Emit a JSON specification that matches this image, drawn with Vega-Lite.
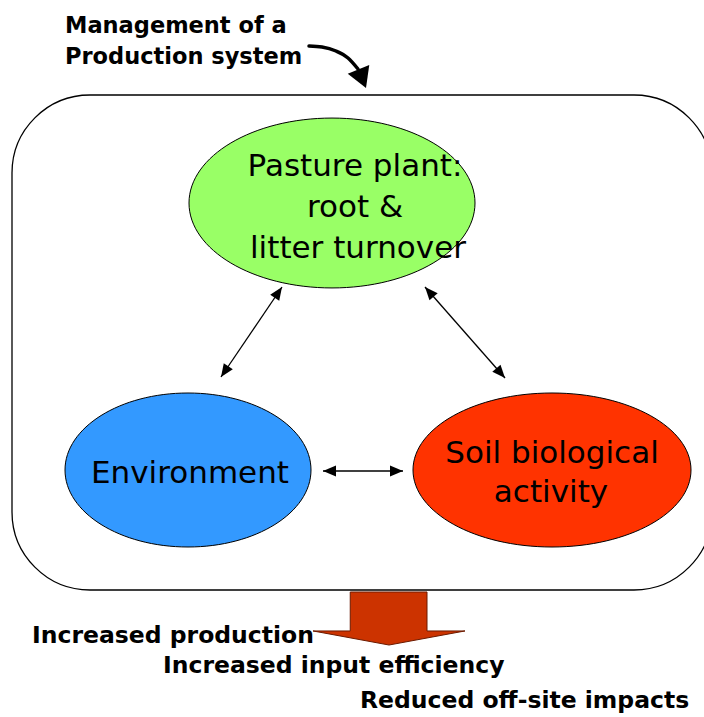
{
  "$schema": "https://vega.github.io/schema/vega-lite/v6.json",
  "width": 704,
  "height": 717,
  "autosize": {"type": "fit", "contains": "padding"},
  "padding": 0,
  "background": "white",
  "config": {"view": {"stroke": null}},
  "datasets": {
    "frame": [{"x": 12, "y": 95, "x2": 712, "y2": 590}],
    "nodes": [
      {"id": "Pasture", "x": 332, "y": 203},
      {"id": "Environment", "x": 188, "y": 470},
      {"id": "Soil", "x": 552, "y": 470}
    ],
    "links": [
      {"x1": 282, "y1": 287, "x2": 221, "y2": 377},
      {"x1": 425, "y1": 287, "x2": 505, "y2": 378},
      {"x1": 323, "y1": 471, "x2": 403, "y2": 471}
    ],
    "curve": [
      {"o": 1, "x": 309, "y": 46},
      {"o": 2, "x": 322, "y": 47},
      {"o": 3, "x": 336, "y": 51},
      {"o": 4, "x": 348, "y": 58},
      {"o": 5, "x": 358, "y": 69}
    ],
    "curvehead": [{"x": 366, "y": 88}],
    "output": [{"x": 389, "y": 618.5}],
    "toptext": [
      {"text": "Management of a", "x": 65, "y": 33},
      {"text": "Production system", "x": 65, "y": 64}
    ],
    "nodetext": [
      {"text": "Pasture plant:", "x": 355, "y": 176},
      {"text": "root &", "x": 355, "y": 217},
      {"text": "litter turnover", "x": 358, "y": 258},
      {"text": "Environment", "x": 190, "y": 483},
      {"text": "Soil biological", "x": 552, "y": 463},
      {"text": "activity", "x": 551, "y": 502}
    ],
    "bottomtext": [
      {"text": "Increased production", "x": 32, "y": 643},
      {"text": "Increased input efficiency", "x": 163, "y": 673},
      {"text": "Reduced off-site impacts", "x": 360, "y": 708}
    ]
  },
  "layer": [
    {
      "data": {"name": "frame"},
      "mark": {"type": "rect", "cornerRadius": 78, "fill": "white", "stroke": "black", "strokeWidth": 1.3, "clip": true},
      "encoding": {
        "x": {"field": "x", "type": "quantitative", "scale": {"domain": [0, 704], "nice": false, "zero": false}, "axis": null},
        "x2": {"field": "x2"},
        "y": {"field": "y", "type": "quantitative", "scale": {"domain": [0, 717], "nice": false, "zero": false, "reverse": true}, "axis": null},
        "y2": {"field": "y2"}
      }
    },
    {
      "data": {"name": "nodes"},
      "transform": [{"filter": "datum.id == 'Pasture'"}],
      "mark": {"type": "point", "filled": true, "opacity": 1, "fill": "#99FF66", "stroke": "black", "strokeWidth": 1, "size": 81796,
        "shape": "M 1 0 C 1 0.328 0.5523 0.594 0 0.594 C -0.5523 0.594 -1 0.328 -1 0 C -1 -0.328 -0.5523 -0.594 0 -0.594 C 0.5523 -0.594 1 -0.328 1 0 Z"},
      "encoding": {
        "x": {"field": "x", "type": "quantitative", "axis": null},
        "y": {"field": "y", "type": "quantitative", "axis": null}
      }
    },
    {
      "data": {"name": "nodes"},
      "transform": [{"filter": "datum.id == 'Environment'"}],
      "mark": {"type": "point", "filled": true, "opacity": 1, "fill": "#3399FF", "stroke": "black", "strokeWidth": 1, "size": 60516,
        "shape": "M 1 0 C 1 0.3457 0.5523 0.626 0 0.626 C -0.5523 0.626 -1 0.3457 -1 0 C -1 -0.3457 -0.5523 -0.626 0 -0.626 C 0.5523 -0.626 1 -0.3457 1 0 Z"},
      "encoding": {
        "x": {"field": "x", "type": "quantitative", "axis": null},
        "y": {"field": "y", "type": "quantitative", "axis": null}
      }
    },
    {
      "data": {"name": "nodes"},
      "transform": [{"filter": "datum.id == 'Soil'"}],
      "mark": {"type": "point", "filled": true, "opacity": 1, "fill": "#FF3300", "stroke": "black", "strokeWidth": 1, "size": 77284,
        "shape": "M 1 0 C 1 0.306 0.5523 0.554 0 0.554 C -0.5523 0.554 -1 0.306 -1 0 C -1 -0.306 -0.5523 -0.554 0 -0.554 C 0.5523 -0.554 1 -0.306 1 0 Z"},
      "encoding": {
        "x": {"field": "x", "type": "quantitative", "axis": null},
        "y": {"field": "y", "type": "quantitative", "axis": null}
      }
    },
    {
      "data": {"name": "links"},
      "mark": {"type": "rule", "color": "black", "strokeWidth": 1.3},
      "encoding": {
        "x": {"field": "x1", "type": "quantitative", "axis": null},
        "y": {"field": "y1", "type": "quantitative", "axis": null},
        "x2": {"field": "x2"},
        "y2": {"field": "y2"}
      }
    },
    {
      "data": {"name": "links"},
      "transform": [{"calculate": "atan2(datum.x2 - datum.x1, datum.y1 - datum.y2) * 180 / PI", "as": "a"}],
      "mark": {"type": "point", "filled": true, "opacity": 1, "fill": "black", "strokeWidth": 0, "size": 676, "shape": "M 0 0 L 0.42 1 L -0.42 1 Z"},
      "encoding": {
        "x": {"field": "x2", "type": "quantitative", "axis": null},
        "y": {"field": "y2", "type": "quantitative", "axis": null},
        "angle": {"field": "a", "type": "quantitative", "scale": null}
      }
    },
    {
      "data": {"name": "links"},
      "transform": [{"calculate": "atan2(datum.x1 - datum.x2, datum.y2 - datum.y1) * 180 / PI", "as": "a"}],
      "mark": {"type": "point", "filled": true, "opacity": 1, "fill": "black", "strokeWidth": 0, "size": 676, "shape": "M 0 0 L 0.42 1 L -0.42 1 Z"},
      "encoding": {
        "x": {"field": "x1", "type": "quantitative", "axis": null},
        "y": {"field": "y1", "type": "quantitative", "axis": null},
        "angle": {"field": "a", "type": "quantitative", "scale": null}
      }
    },
    {
      "data": {"name": "curve"},
      "mark": {"type": "line", "color": "black", "strokeWidth": 3.5, "interpolate": "monotone", "strokeCap": "round"},
      "encoding": {
        "x": {"field": "x", "type": "quantitative", "axis": null},
        "y": {"field": "y", "type": "quantitative", "axis": null},
        "order": {"field": "o", "type": "quantitative"}
      }
    },
    {
      "data": {"name": "curvehead"},
      "mark": {"type": "point", "filled": true, "opacity": 1, "fill": "black", "strokeWidth": 0, "size": 1600, "angle": 158, "shape": "M 0 0 L 0.58 1 L -0.58 1 Z"},
      "encoding": {
        "x": {"field": "x", "type": "quantitative", "axis": null},
        "y": {"field": "y", "type": "quantitative", "axis": null}
      }
    },
    {
      "data": {"name": "output"},
      "mark": {"type": "point", "filled": true, "opacity": 1, "fill": "#CC3300", "stroke": "#6b1a00", "strokeWidth": 1, "size": 23104,
        "shape": "M -0.51 -0.349 L 0.5 -0.349 L 0.5 0.164 L 1 0.164 L 0 0.349 L -1 0.164 L -0.51 0.164 Z"},
      "encoding": {
        "x": {"field": "x", "type": "quantitative", "axis": null},
        "y": {"field": "y", "type": "quantitative", "axis": null}
      }
    },
    {
      "data": {"name": "toptext"},
      "mark": {"type": "text", "font": "DejaVu Sans", "fontWeight": "bold", "fontSize": 22.5, "align": "left", "baseline": "alphabetic", "color": "black"},
      "encoding": {
        "x": {"field": "x", "type": "quantitative", "axis": null},
        "y": {"field": "y", "type": "quantitative", "axis": null},
        "text": {"field": "text"}
      }
    },
    {
      "data": {"name": "nodetext"},
      "mark": {"type": "text", "font": "DejaVu Sans", "fontSize": 31, "align": "center", "baseline": "alphabetic", "color": "black"},
      "encoding": {
        "x": {"field": "x", "type": "quantitative", "axis": null},
        "y": {"field": "y", "type": "quantitative", "axis": null},
        "text": {"field": "text"}
      }
    },
    {
      "data": {"name": "bottomtext"},
      "mark": {"type": "text", "font": "DejaVu Sans", "fontWeight": "bold", "fontSize": 23.5, "align": "left", "baseline": "alphabetic", "color": "black"},
      "encoding": {
        "x": {"field": "x", "type": "quantitative", "axis": null},
        "y": {"field": "y", "type": "quantitative", "axis": null},
        "text": {"field": "text"}
      }
    }
  ]
}
